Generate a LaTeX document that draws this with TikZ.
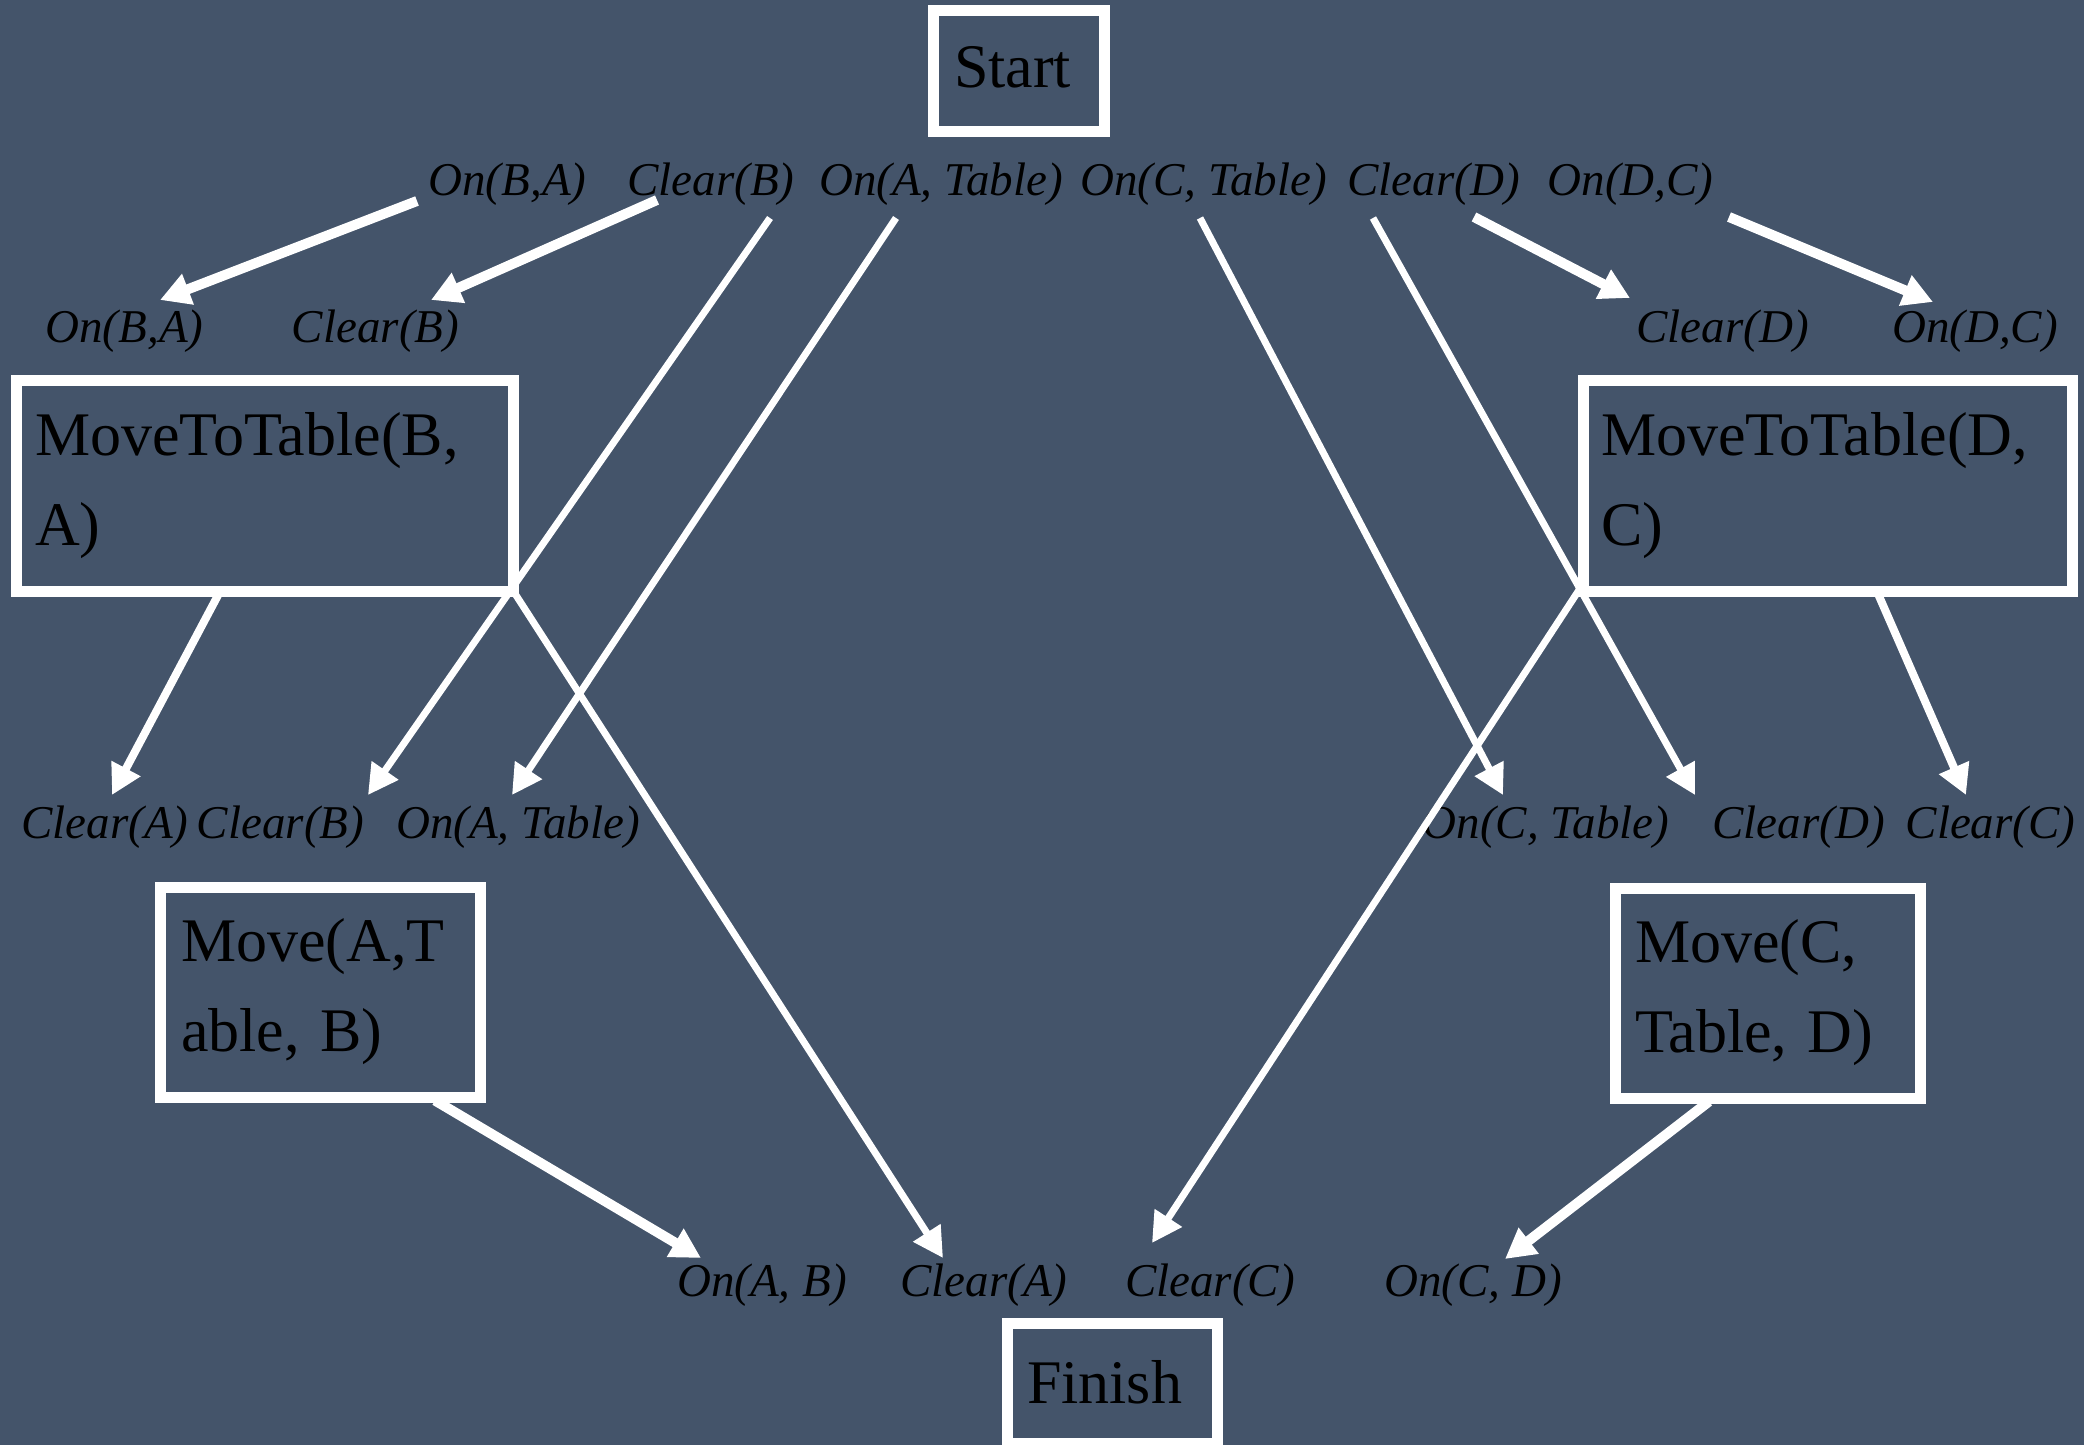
\documentclass[tikz,border=0pt]{standalone}
\usepackage{fontspec}
\setmainfont{Liberation Serif}
\usetikzlibrary{arrows.meta}
\definecolor{slate}{HTML}{44546A}
\begin{document}
\begin{tikzpicture}[x=0.5pt,y=-0.5pt,
  box/.style={draw=white, line width=5.5pt, rectangle, inner ysep=0pt,
    align=left, font=\fontsize{31}{45}\selectfont, text=black},
  lbl/.style={font=\fontsize{23.5}{28}\selectfont\itshape, inner sep=0pt,
    anchor=base, text=black},
  link/.style={draw=white, line width=3.5pt,
    -{Triangle[length=15pt,width=15.5pt]}},
  thicklink/.style={link, line width=5pt},
  midlink/.style={link, line width=4pt}]

% canvas
\fill[slate] (0,0) rectangle (2084,1445);
\useasboundingbox (0,0) rectangle (2084,1445);

% plan steps
\node[box, inner xsep=10.5pt, text width=64.5pt, text depth=4.5pt, minimum height=60.5pt]
  (start) at (1018.5,71.5) {Start};
\node[box, inner xsep=9.5pt, text width=229.5pt, minimum height=105.5pt]
  (mtb) at (264.5,485.5) {MoveToTable(B,\\A)};
\node[box, inner xsep=9pt, text width=226.5pt, minimum height=105.5pt]
  (mtd) at (1827.5,485.5) {MoveToTable(D,\\C)};
\node[box, inner xsep=10.5pt, text width=139pt, minimum height=105pt]
  (mab) at (320,992) {Move(A,T\\able, B)};
\node[box, inner xsep=10pt, text width=132.5pt, minimum height=105pt]
  (mcd) at (1767.5,993) {Move(C,\\Table, D)};
\node[box, inner xsep=10pt, text width=85pt, text depth=1pt, minimum height=60pt]
  (finish) at (1112,1383) {Finish};

% effects of Start
\node[lbl] (t1) at (507.5,196) {On(B,A)};
\node[lbl] (t2) at (711,196) {Clear(B)};
\node[lbl] (t3) at (941,196) {On(A, Table)};
\node[lbl] (t4) at (1203.5,196) {On(C, Table)};
\node[lbl] (t5) at (1433.5,196) {Clear(D)};
\node[lbl] (t6) at (1630.5,196) {On(D,C)};

% preconditions of the MoveToTable steps
\node[lbl] (s1) at (124.5,342) {On(B,A)};
\node[lbl] (s2) at (375.5,342) {Clear(B)};
\node[lbl] (s3) at (1722.5,342) {Clear(D)};
\node[lbl] (s4) at (1975,342) {On(D,C)};

% preconditions of the Move steps
\node[lbl] (m1) at (105,838) {Clear(A)};
\node[lbl] (m2) at (280.5,838) {Clear(B)};
\node[lbl] (m3) at (518,838) {On(A, Table)};
\node[lbl] (m4) at (1546,838) {On(C, Table)};
\node[lbl] (m5) at (1798.5,838) {Clear(D)};
\node[lbl] (m6) at (1990.5,838) {Clear(C)};

% goals of Finish
\node[lbl] (b1) at (762,1296) {On(A, B)};
\node[lbl] (b2) at (984,1296) {Clear(A)};
\node[lbl] (b3) at (1210,1296) {Clear(C)};
\node[lbl] (b4) at (1473,1296) {On(C, D)};

% causal links
\draw[thicklink] ([shift={(-90.5,5)}]t1.base) -- ([shift={(35.5,-42)}]s1.base);
\draw[thicklink] ([shift={(-54,4)}]t2.base) -- ([shift={(55.5,-42)}]s2.base);
\draw[link] ([shift={(59,22)}]t2.base) -- ([shift={(87.5,-43)}]m2.base);
\draw[link] ([shift={(-45,22)}]t3.base) -- ([shift={(-6,-43)}]m3.base);
\draw[midlink] ([shift={(-44.5,-5)}]mtb.south) -- ([shift={(7,-43)}]m1.base);
\draw[link] ([shift={(-6.5,-7.5)}]mtb.south east) -- ([shift={(-41,-38)}]b2.base);
\draw[link] ([shift={(-3.5,22)}]t4.base) -- ([shift={(-43,-43)}]m4.base);
\draw[link] ([shift={(-60.5,22)}]t5.base) -- ([shift={(-103.5,-43)}]m5.base);
\draw[thicklink] ([shift={(40.5,21)}]t5.base) -- ([shift={(-92.5,-44)}]s3.base);
\draw[thicklink] ([shift={(98.5,21)}]t6.base) -- ([shift={(-42,-40)}]s4.base);
\draw[link] ([shift={(1.5,-6.5)}]mtd.south west) -- ([shift={(-58,-53)}]b3.base);
\draw[midlink] ([shift={(49.5,-5)}]mtd.south) -- ([shift={(-24.5,-43)}]m6.base);
\draw[thicklink] ([shift={(115,-2)}]mab.south) -- ([shift={(-61,-38)}]b1.base);
\draw[thicklink] ([shift={(-58.5,-2)}]mcd.south) -- ([shift={(32,-37)}]b4.base);
\end{tikzpicture}
\end{document}
